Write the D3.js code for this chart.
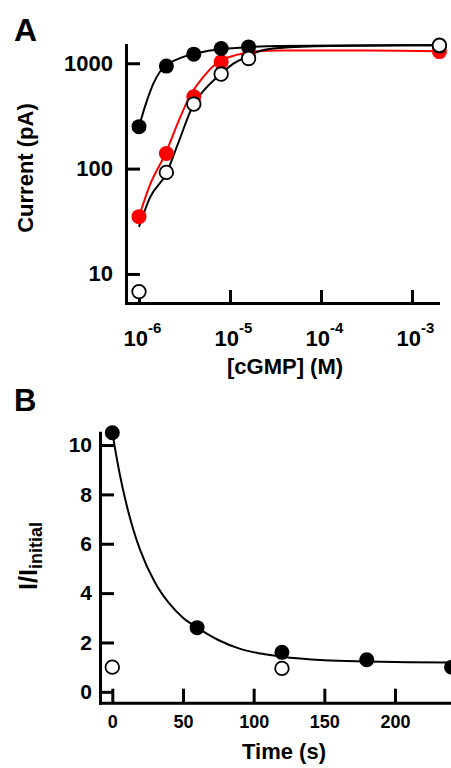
<!DOCTYPE html>
<html>
<head>
<meta charset="utf-8">
<script src="https://cdn.jsdelivr.net/npm/d3@7"></script>
<style>
  body{margin:0;background:#fff;}
  text{font-family:"Liberation Sans",Arial,sans-serif;font-weight:bold;fill:#000;}
</style>
</head>
<body>
<script>
/*
two panels
A : dose response, log-log, three series + fitted curves
B : I/Iinitial vs time, decay fit
*/

// ---- panel A data
var cgmp = [1e-6, 2e-6, 4e-6, 8e-6, 16e-6, 2e-3];
var blackFilled = [250, 940, 1220, 1380, 1430, 1460];
var redFilled = [35, 139, 480, 1030, 1150, 1290];
var openCircle = [6.8, 92, 410, 790, 1110, 1480];
var xTicksA = [1e-6, 1e-5, 1e-4, 1e-3];
var xTickExpA = ['-6', '-5', '-4', '-3'];
var yTicksA = [10, 100, 1000];

// fitted curves [cGMP, pA]
var blackFit = [[1e-6,250],[1.2e-6,420],[1.45e-6,650],[1.7e-6,830],[2e-6,960],[2.7e-6,1100],
  [3.6e-6,1200],[5e-6,1280],[7e-6,1340],[1.5e-5,1420],[3.5e-5,1460],[1.5e-4,1475],[2e-3,1480]];
var redFit = [[1e-6,35],[1.32e-6,70],[2e-6,145],[2.7e-6,277],[3.6e-6,482],[5e-6,725],
  [7.1e-6,1000],[1.18e-5,1200],[1.8e-5,1289],[3.5e-5,1320],[3.5e-4,1320],[2e-3,1300]];
var openFit = [[1e-6,28],[1.32e-6,53],[2e-6,90],[2.7e-6,175],[3.95e-6,402],[5.45e-6,582],
  [7.7e-6,774],[1.08e-5,985],[1.53e-5,1155],[2.13e-5,1309],[3.5e-5,1397],[1.25e-4,1459],[2e-3,1485]];

// ---- panel B data
var timeB = [0, 60, 120, 180, 240];
var ratioFilled = [10.5, 2.6, 1.6, 1.3, 1.0];
var timeOpen = [0, 120];
var ratioOpen = [1.0, 0.95];
var xTicksB = [0, 50, 100, 150, 200];
var yTicksB = [0, 2, 4, 6, 8, 10];
var decayFit = [[0,10.5],[5,8.9],[10,7.6],[15,6.55],[20,5.7],[30,4.45],[40,3.6],[50,3.0],
  [60,2.6],[75,2.1],[90,1.75],[105,1.55],[120,1.42],[150,1.28],[180,1.23],[210,1.2],[240,1.19]];

var W = 451, H = 768;
var svg = d3.select('body').append('svg').attr('width',W).attr('height',H);
svg.append('rect').attr('width',W).attr('height',H).attr('fill','#fff');

function styleAxis(g,size){
  g.attr('font-family',null).attr('font-size',size);
  g.select('.domain').attr('stroke','#000').attr('stroke-width',3).attr('stroke-linecap','square');
  g.selectAll('.tick line').attr('stroke','#000').attr('stroke-width',3);
}

// ================= panel A
var xA = d3.scaleLog().domain([Math.pow(10,-6.1427), Math.pow(10,-2.7144)]).range([126,438]);
var yA = d3.scaleLog().domain([5.3, 1490]).range([303,45]);

var gA = svg.append('g');
gA.append('text').attr('x',14).attr('y',41).attr('font-size',32).text('A');

var yAxisA = d3.axisLeft(yA).tickValues(yTicksA).tickFormat(d3.format('d'))
  .tickSizeInner(-14).tickSizeOuter(0).tickPadding(13);
gA.append('g').attr('transform','translate(126,0)').call(yAxisA).call(g=>styleAxis(g,22));

var xAxisA = d3.axisBottom(xA).tickValues(xTicksA).tickFormat('')
  .tickSizeInner(-13).tickSizeOuter(0).tickPadding(27);
var xgA = gA.append('g').attr('transform','translate(0,303)').call(xAxisA).call(g=>styleAxis(g,22));
xgA.selectAll('.tick text').each(function(d,i){
  var t = d3.select(this).text(null).attr('dx',3);
  t.append('tspan').text('10');
  t.append('tspan').attr('dy',-13).attr('font-size',15).text(xTickExpA[i]);
});

gA.append('text').attr('x',285).attr('y',374).attr('font-size',22)
  .attr('text-anchor','middle').text('[cGMP] (M)');
gA.append('text').attr('transform','translate(33,168) rotate(-90)').attr('font-size',22)
  .attr('text-anchor','middle').text('Current (pA)');

var lineA = d3.line().x(d=>xA(d[0])).y(d=>yA(d[1])).curve(d3.curveMonotoneX);
gA.append('path').datum(redFit).attr('d',lineA).attr('fill','none').attr('stroke','#f00').attr('stroke-width',2);
gA.append('path').datum(openFit).attr('d',lineA).attr('fill','none').attr('stroke','#000').attr('stroke-width',2);
gA.append('path').datum(blackFit).attr('d',lineA).attr('fill','none').attr('stroke','#000').attr('stroke-width',2);

function dots(p,xs,ys,sx,sy,fill,open){
  p.append('g').selectAll('circle').data(xs).enter().append('circle')
    .attr('cx',(d)=>sx(d)).attr('cy',(d,i)=>sy(ys[i]))
    .attr('r',open ? 6.8 : 7.5)
    .attr('fill',fill)
    .attr('stroke',open ? '#000' : 'none').attr('stroke-width',1.8);
}
dots(gA,cgmp,redFilled,xA,yA,'#f00',false);
dots(gA,cgmp,blackFilled,xA,yA,'#000',false);
dots(gA,cgmp,openCircle,xA,yA,'#fff',true);

// ================= panel B
var xB = d3.scaleLinear().domain([-8.7, 239.6]).range([100,451]);
var yB = d3.scaleLinear().domain([-0.44, 10.5]).range([702.7,432.7]);

var gB = svg.append('g');
gB.append('text').attr('x',14).attr('y',411).attr('font-size',31).text('B');

var yAxisB = d3.axisLeft(yB).tickValues(yTicksB).tickFormat(d3.format('d'))
  .tickSizeInner(-14).tickSizeOuter(0).tickPadding(8);
gB.append('g').attr('transform','translate(100,0)').call(yAxisB).call(g=>styleAxis(g,21));

var xAxisB = d3.axisBottom(xB).tickValues(xTicksB).tickFormat(d3.format('d'))
  .tickSizeInner(-14).tickSizeOuter(0).tickPadding(13);
gB.append('g').attr('transform','translate(0,702.7)').call(xAxisB).call(g=>styleAxis(g,18));

gB.append('text').attr('x',284).attr('y',759).attr('font-size',22)
  .attr('text-anchor','middle').text('Time (s)');
var yt = gB.append('text').attr('transform','translate(37,556) rotate(-90)')
  .attr('text-anchor','middle').attr('font-size',25);
yt.append('tspan').text('I/I');
yt.append('tspan').attr('dy',5).attr('font-size',18).text('initial');

var lineB = d3.line().x(d=>xB(d[0])).y(d=>yB(d[1])).curve(d3.curveMonotoneX);
gB.append('path').datum(decayFit).attr('d',lineB).attr('fill','none').attr('stroke','#000').attr('stroke-width',2);

dots(gB,timeB,ratioFilled,xB,yB,'#000',false);
dots(gB,timeOpen,ratioOpen,xB,yB,'#fff',true);
</script>
</body>
</html>
